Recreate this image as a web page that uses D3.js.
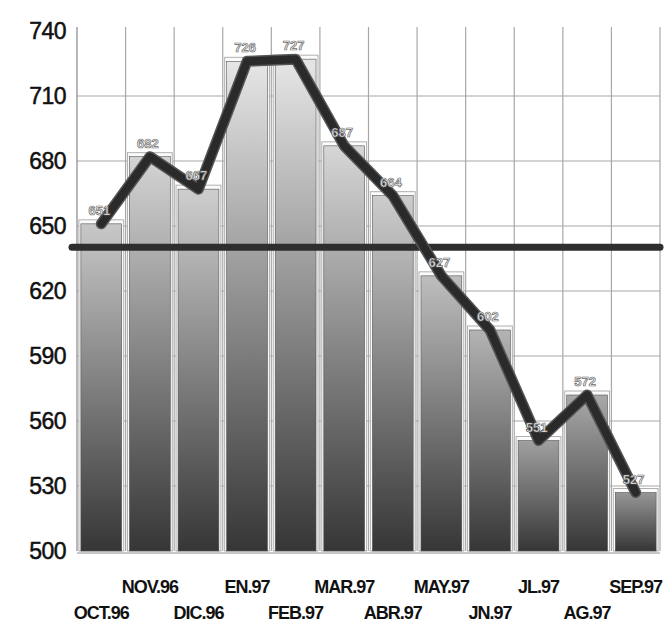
<!DOCTYPE html>
<html><head><meta charset="utf-8">
<script src="https://cdn.jsdelivr.net/npm/d3@7"></script>
<style>
html,body{margin:0;padding:0;background:#fff;}
svg{display:block;}
</style></head>
<body>
<script>
const categories = ["OCT.96","NOV.96","DIC.96","EN.97","FEB.97","MAR.97","ABR.97","MAY.97","JN.97","JL.97","AG.97","SEP.97"];
const values = [651,682,667,726,727,687,664,627,602,551,572,527];
const yTicks = [500,530,560,590,620,650,680,710,740];
const average = d3.mean(values);

const W = 668, H = 627;
const pLeft = 77, pRight = 660, pTop = 31, pBottom = 551;

const svg = d3.select("body").append("svg").attr("width", W).attr("height", H);
const defs = svg.append("defs");

const x = d3.scaleBand().domain(categories).range([pLeft, pRight]).paddingInner(0.16).paddingOuter(0.08);
const xb = d3.scaleBand().domain(categories).range([pLeft, pRight]).padding(0);
const y = d3.scaleLinear().domain([500, 740]).range([pBottom, pTop]);

const maxV = d3.max(values);
const topCol = d3.interpolateRgb("#8c8c8c", "#e6e6e6");
values.forEach((v, i) => {
  const t = Math.min(1, (v - 500) / (maxV - 500));
  const g = defs.append("linearGradient").attr("id", "barGrad" + i).attr("x1",0).attr("y1",0).attr("x2",0).attr("y2",1);
  g.append("stop").attr("offset","0%").attr("stop-color", topCol(t));
  g.append("stop").attr("offset","100%").attr("stop-color","#363636");
});

// grid
const grid = svg.append("g");
grid.selectAll("line.h").data(yTicks.filter(t => t > 500 && t < 740)).enter().append("line")
  .attr("x1", pLeft).attr("x2", pRight).attr("y1", d => y(d)).attr("y2", d => y(d))
  .attr("stroke", "#a8a8a8").attr("stroke-width", 1.2);
const vx = categories.map(c => xb(c)).concat([pRight]);
grid.selectAll("line.v").data(vx).enter().append("line")
  .attr("x1", d => d).attr("x2", d => d).attr("y1", pTop - 4).attr("y2", pBottom)
  .attr("stroke", (d,i) => i === 0 ? "#888" : "#a8a8a8").attr("stroke-width", 1.2);

// bar back outlines
svg.append("g").selectAll("rect").data(values).enter().append("rect")
  .attr("x", (d,i) => x(categories[i]) - 2)
  .attr("y", d => y(d) - 4)
  .attr("width", x.bandwidth() + 4)
  .attr("height", d => pBottom - y(d) + 4)
  .attr("fill", "#fbfbfb").attr("stroke", "#b0b0b0").attr("stroke-width", 1);

// bars
svg.append("g").selectAll("rect").data(values).enter().append("rect")
  .attr("x", (d,i) => x(categories[i]))
  .attr("y", d => y(d))
  .attr("width", x.bandwidth())
  .attr("height", d => pBottom - y(d))
  .attr("fill", (d,i) => "url(#barGrad" + i + ")").attr("stroke", "#555").attr("stroke-width", 0.6);

// floor
svg.append("line").attr("x1", pLeft).attr("x2", pRight).attr("y1", pBottom + 2).attr("y2", pBottom + 2)
  .attr("stroke", "#c8c8c8").attr("stroke-width", 2);

// average line
svg.append("line").attr("x1", pLeft - 5).attr("x2", pRight).attr("y1", y(average)).attr("y2", y(average))
  .attr("stroke", "#2e2e2e").attr("stroke-width", 7).attr("stroke-linecap", "round");

// data line
const line = d3.line().x((d,i) => xb(categories[i]) + xb.bandwidth()/2).y(d => y(d));
svg.append("path").datum(values).attr("d", line).attr("fill", "none")
  .attr("stroke", "#555").attr("stroke-width", 11).attr("stroke-linejoin", "round").attr("stroke-linecap","round");
svg.append("path").datum(values).attr("d", line).attr("fill", "none")
  .attr("stroke", "#2a2a2a").attr("stroke-width", 8).attr("stroke-linejoin", "round").attr("stroke-linecap","round");

// value labels
svg.append("g").selectAll("text").data(values).enter().append("text")
  .attr("x", (d,i) => xb(categories[i]) + xb.bandwidth()/2 - 2)
  .attr("y", d => y(d) - 9)
  .attr("text-anchor", "middle")
  .attr("font-family", "Liberation Sans, Arial, sans-serif")
  .attr("font-size", 13).attr("font-weight", "bold")
  .attr("fill", "#f6f6f6").attr("stroke", "#6a6a6a").attr("stroke-width", 0.7)
  .text(d => d);

// y axis labels
svg.append("g").selectAll("text").data(yTicks).enter().append("text")
  .attr("x", 66).attr("y", d => y(d) + 8)
  .attr("text-anchor", "end")
  .attr("font-family", "Liberation Sans, Arial, sans-serif")
  .attr("font-size", 23).attr("fill", "#111")
  .attr("stroke", "#111").attr("stroke-width", 0.5)
  .attr("letter-spacing", -0.5)
  .text(d => d);

// x axis labels (two staggered rows)
svg.append("g").selectAll("text").data(categories).enter().append("text")
  .attr("x", d => xb(d) + xb.bandwidth()/2)
  .attr("y", (d,i) => i % 2 === 1 ? 593 : 619)
  .attr("text-anchor", "middle")
  .attr("font-family", "Liberation Sans, Arial, sans-serif")
  .attr("font-size", 18).attr("font-weight", "bold").attr("fill", "#111")
  .attr("letter-spacing", -1)
  .text(d => d);
</script>
</body></html>
